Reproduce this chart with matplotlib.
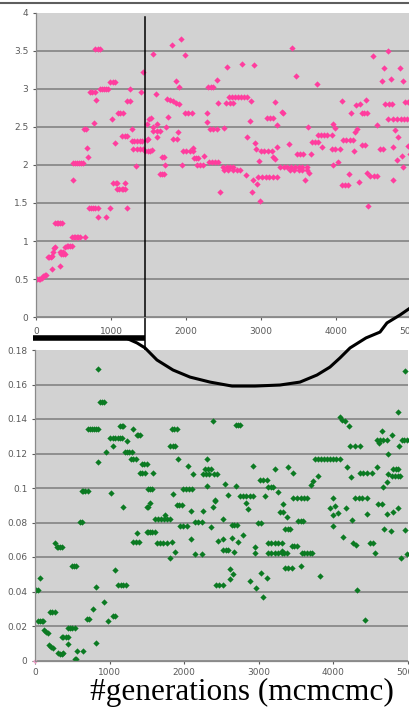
import matplotlib
matplotlib.use("Agg")
import matplotlib.pyplot as plt
from matplotlib.lines import Line2D
from matplotlib.transforms import blended_transform_factory

# ================================================================================================
# Data
# ================================================================================================
# top panel (pink)
top_gen = [
    0, 20, 40, 60, 80, 100, 120, 140, 160, 180, 200, 220, 213, 227, 240, 250,
    260, 280, 300, 320, 345, 320, 320, 340, 360, 340, 360, 385,
    390, 410, 430, 450, 475, 480, 500, 520, 540, 560, 585, 655, 493,
    495, 520, 545, 570, 600, 625, 640, 660, 680, 693,
    707, 730, 760, 790, 825, 720, 750, 785, 773, 800, 790, 820, 850,
    827, 933, 855, 880, 905, 930, 960, 987, 990, 1020, 1050, 1013,
    1027, 1060, 1080, 1053, 1080, 1110, 1140, 1165, 1187, 1095, 1125, 1160,
    1150, 1180, 1210, 1187, 1213, 1215, 1250, 1253, 1280,
    1280, 1310, 1345, 1380, 1413, 1295, 1340, 1385, 1427, 1333, 1400, 1427,
    1455, 1490, 1520, 1547, 1480, 1507, 1493,
    1564, 1817, 1933, 1987, 1867, 1902, 2293, 2330, 2360, 2409, 2551, 2743, 2907,
    1600, 1743, 1790, 1830, 1870, 1911,
    2573, 2610, 2650, 2690, 2730, 2770, 2813, 2533, 2580, 2627, 2427, 2867, 3187,
    1987, 2030, 2080, 2276, 1529, 1764, 1609, 1564, 1729, 2276,
    2320, 2365, 2409, 2511, 2853, 3076, 3120, 3164, 3218,
    1564, 1610, 1653, 1889, 1476, 1609, 1827, 1880, 2818, 2920, 2933,
    1960, 2000, 2050, 2093, 2098, 2996, 3040, 3090, 3142, 3218,
    1676, 1707, 2107, 2135, 2160, 2244, 2311, 2350, 2390, 2431,
    1720, 1942, 2142, 2185, 2231, 2978, 2493, 2540, 2585, 2627, 3164,
    3409, 4489, 4698, 4644, 4853, 3467, 3742, 4609, 4733, 4889,
    4084, 4267, 4320, 4400, 4653, 4700, 4742, 4920, 4960, 4987,
    3298, 3285, 4196, 4342, 4375, 4409,
    4698, 4764, 4810, 4860, 4900, 4942, 3622, 3964, 3987, 4284, 4253, 4542,
    3764, 3800, 3840, 3880, 3942, 4787, 4831,
    3373, 3676, 3720, 3764, 3809, 4089, 4135, 4180, 4231, 3942, 3990, 4053,
    4342, 4387, 4587, 4631, 4756, 4960,
    3476, 3520, 3564, 3662, 4240, 4876, 4980, 3187, 4031, 4809,
    3253, 3300, 3350, 3400, 3450, 3500, 3550, 3609, 3964, 4898,
    1650, 1676, 1700, 2453, 2500, 2560, 2620, 2680, 2720,
    2800, 2898, 2942, 2964, 3010, 3060, 3110, 3160, 3209, 2884, 2987,
    3387, 3440, 3500, 3550, 3609, 3587, 3644,
    4076, 4120, 4164, 4173, 4307, 4418, 4453, 4500, 4542, 4764, 4422,
]
top_rate = [
    0.50, 0.50, 0.50, 0.50, 0.51, 0.54, 0.55, 0.55, 0.79, 0.79, 0.79, 0.80, 0.63, 0.86, 0.91, 0.92,
    1.24, 1.24, 1.24, 1.24, 1.24, 0.67, 0.86, 0.86, 0.85, 0.83, 0.83, 0.83,
    0.92, 0.93, 0.93, 0.93, 0.93, 1.05, 1.05, 1.05, 1.05, 1.05, 1.05, 1.05, 1.80,
    2.03, 2.03, 2.03, 2.03, 2.03, 2.03, 2.47, 2.47, 2.22, 2.11,
    1.44, 1.44, 1.44, 1.44, 1.44, 2.96, 2.96, 2.96, 2.55, 2.86, 3.53, 3.53, 3.53,
    1.32, 1.32, 3.00, 3.00, 3.00, 3.00, 3.00, 1.43, 3.09, 3.09, 3.09, 2.60,
    1.76, 1.76, 1.76, 2.29, 1.68, 1.68, 1.68, 1.68, 1.68, 2.68, 2.68, 2.68,
    2.38, 2.38, 2.38, 1.76, 1.43, 2.84, 2.84, 3.00, 2.47,
    2.31, 2.31, 2.31, 2.31, 2.31, 2.21, 2.21, 2.21, 2.21, 1.99, 2.96, 3.22,
    2.19, 2.19, 2.19, 2.20, 2.54, 2.61, 2.34,
    3.46, 3.58, 3.66, 3.45, 3.11, 3.03, 3.02, 3.02, 3.02, 3.12, 3.29, 3.33, 3.31,
    2.93, 2.87, 2.86, 2.84, 2.82, 2.80,
    2.89, 2.89, 2.89, 2.89, 2.89, 2.89, 2.89, 2.81, 2.81, 2.81, 2.81, 2.84, 2.83,
    2.68, 2.68, 2.68, 2.69, 2.62, 2.63, 2.54, 2.50, 2.50, 2.56,
    2.48, 2.48, 2.48, 2.49, 2.58, 2.62, 2.62, 2.62, 2.53,
    2.45, 2.45, 2.45, 2.43, 2.33, 2.37, 2.34, 2.34, 2.37, 2.29, 2.21,
    2.18, 2.18, 2.18, 2.18, 2.23, 2.18, 2.18, 2.18, 2.18, 2.24,
    2.11, 2.11, 2.09, 2.09, 2.09, 2.12, 2.04, 2.04, 2.04, 2.04,
    2.00, 2.00, 2.00, 2.00, 2.00, 2.05, 1.98, 1.98, 1.98, 1.98, 2.11,
    3.54, 3.44, 3.50, 3.28, 3.28, 3.17, 3.06, 3.10, 3.13, 3.11,
    2.84, 2.79, 2.80, 2.86, 2.80, 2.80, 2.80, 2.83, 2.83, 2.83,
    2.68, 2.70, 2.68, 2.68, 2.68, 2.68,
    2.60, 2.61, 2.61, 2.61, 2.61, 2.61, 2.50, 2.54, 2.49, 2.48, 2.44, 2.52,
    2.39, 2.39, 2.39, 2.39, 2.39, 2.46, 2.37,
    2.28, 2.30, 2.30, 2.30, 2.24, 2.33, 2.33, 2.33, 2.33, 2.21, 2.21, 2.21,
    2.26, 2.26, 2.21, 2.21, 2.24, 2.25,
    2.15, 2.15, 2.15, 2.14, 2.18, 2.12, 2.15, 2.08, 2.04, 2.07,
    1.98, 1.97, 1.97, 1.97, 1.97, 1.97, 1.97, 1.97, 2.00, 1.98,
    1.88, 1.88, 1.88, 1.65, 1.93, 1.93, 1.93, 1.93, 1.93,
    1.87, 1.80, 1.75, 1.84, 1.84, 1.84, 1.84, 1.84, 1.84, 1.64, 1.53,
    1.93, 1.93, 1.93, 1.93, 1.93, 1.80, 1.89,
    1.74, 1.74, 1.74, 1.88, 1.78, 1.90, 1.85, 1.85, 1.85, 1.80, 1.46,
]

# bottom panel (green)
bot_gen = [
    849, 870, 895, 920, 714, 740, 765, 790, 820, 849, 1140, 1162, 1185,
    1310, 1363, 1385, 1408, 1005, 1040, 1075, 1110, 1140, 1162, 1238, 1041,
    952, 1206, 1235, 1265, 1296, 840, 1283, 1320, 1354, 1430, 1465, 1497,
    1408, 1440, 1475, 626, 650, 675, 715, 1019, 1519,
    1184, 603, 625, 1363, 1318, 1360, 1399, 1497, 1520, 1541, 1519,
    268, 290, 315, 335, 357, 492, 520, 550, 1072, 67, 1117, 1150, 1185, 1220,
    15, 35, 818, 925, 782, 201, 230, 268, 44, 70, 90, 112, 700, 730, 983,
    1041, 1072, 125, 150, 179, 190, 210, 237, 446, 470, 500, 536,
    357, 380, 410, 446, 446, 818, 313, 335, 360, 380, 567, 647, 536, 550,
    2382, 2700, 2725, 2750, 1832, 1865, 1899, 1810, 1845, 1877, 1921, 2301,
    2055, 2279, 2320, 2359, 2122, 2256, 2290, 2330, 2400, 2435, 1586,
    2926, 3217, 3016, 3060, 3105, 3127, 3160, 3194, 2547, 2690, 2301, 1540, 1564,
    1988, 2025, 2060, 2100, 1854, 2591, 2748, 2790, 2835, 2880, 2927, 3083, 3262, 2413,
    1506, 1541, 1899, 1930, 1966, 2091, 2256, 2382, 2413, 2828, 2859,
    1609, 1650, 1690, 1730, 1770, 1810, 1743, 1944, 1990, 2033, 2145, 2190, 2234,
    2359, 2524, 2636, 2670, 2703, 2792, 2993, 3025, 1565, 1609,
    1631, 1675, 1720, 1765, 1832, 2091, 2449, 2516, 2636, 2725, 2525, 2558, 2591,
    1872, 2145, 2243, 2672, 2949, 2949, 3127, 3170, 3215, 3262, 3127, 3170, 3215, 3262,
    1810, 2614, 2650, 2614, 2422, 2470, 2516, 2882, 2963, 3030, 3105, 3060,
    4960, 4870, 4088, 4120, 4155, 4209, 4648, 4782, 4580, 4620, 4660, 4714, 4610,
    4915, 4950, 4982, 4222, 4290, 4357, 4879, 4736,
    3753, 3790, 3830, 3870, 3910, 3950, 3990, 4040, 4088,
    3396, 3463, 3798, 3731, 3700, 4187, 4232, 4357, 4400, 4450, 4513, 4580,
    4736, 4803, 4840, 4870, 4782, 4820, 4860, 4893, 4723, 4669,
    3463, 3510, 3560, 3600, 3642, 4000, 4290, 4340, 4390, 4446,
    3329, 3284, 3329, 3374, 3530, 3565, 3597, 3954, 4021, 3999, 4066, 4169, 3999,
    4245, 4455, 4601, 4646, 4723, 4803, 4870, 4678, 4768, 4960, 3351, 3385, 3418,
    3307, 3307, 3340, 3374, 3307, 3441, 3475, 3507, 3575, 3610, 3645, 3680, 3709,
    4133, 4259, 4303, 4491, 4535, 4557, 4982, 4902,
    3351, 3395, 3441, 3562, 3820, 4312, 4423,
]
bot_rate = [
    0.1688, 0.150, 0.150, 0.150, 0.134, 0.134, 0.134, 0.134, 0.134, 0.134, 0.136, 0.136, 0.136,
    0.134, 0.131, 0.131, 0.131, 0.129, 0.129, 0.129, 0.129, 0.129, 0.129, 0.127, 0.1245,
    0.121, 0.121, 0.121, 0.121, 0.121, 0.115, 0.117, 0.117, 0.117, 0.114, 0.114, 0.114,
    0.1085, 0.1085, 0.1085, 0.098, 0.098, 0.098, 0.098, 0.097, 0.0994,
    0.0888, 0.0805, 0.0805, 0.0737, 0.0685, 0.0685, 0.0685, 0.0743, 0.0743, 0.0743, 0.089,
    0.0683, 0.066, 0.066, 0.066, 0.066, 0.055, 0.055, 0.055, 0.0525, 0.0476, 0.0438, 0.0435, 0.0435, 0.0435,
    0.0409, 0.0409, 0.0424, 0.0337, 0.0298, 0.0283, 0.0283, 0.0283, 0.0231, 0.0231, 0.0231, 0.0231,
    0.024, 0.024, 0.0231,
    0.0258, 0.0258, 0.0175, 0.0165, 0.016, 0.009, 0.008, 0.0075, 0.019, 0.019, 0.019, 0.019,
    0.0138, 0.0138, 0.0138, 0.0138, 0.0096, 0.0103, 0.0042, 0.0040, 0.0040, 0.0042, 0.0055, 0.0055,
    0.0007, 0.0007,
    0.139, 0.1365, 0.1365, 0.1365, 0.134, 0.134, 0.134, 0.1245, 0.1245, 0.1245, 0.117, 0.1168,
    0.113, 0.111, 0.111, 0.111, 0.108, 0.108, 0.108, 0.108, 0.108, 0.108, 0.1085,
    0.113, 0.111, 0.1045, 0.1045, 0.1045, 0.1008, 0.1008, 0.1008, 0.1023, 0.1012, 0.1012, 0.0994, 0.0994,
    0.0993, 0.0993, 0.0993, 0.0993, 0.0964, 0.096, 0.0955, 0.0955, 0.0955, 0.0955, 0.0955, 0.0955,
    0.0975, 0.093,
    0.0888, 0.0915, 0.090, 0.090, 0.090, 0.0868, 0.0868, 0.0892, 0.0925, 0.0915, 0.0877,
    0.082, 0.082, 0.082, 0.082, 0.082, 0.082, 0.0843, 0.078, 0.078, 0.078, 0.0805, 0.0805, 0.0805,
    0.0776, 0.082, 0.0785, 0.0785, 0.0785, 0.0728, 0.080, 0.080, 0.0743, 0.0743,
    0.0683, 0.0683, 0.0683, 0.0683, 0.0689, 0.0704, 0.0694, 0.0704, 0.0708, 0.0689, 0.064, 0.064, 0.064,
    0.0627, 0.0617, 0.0617, 0.0627, 0.0656, 0.0621, 0.0683, 0.0683, 0.0683, 0.0683,
    0.0624, 0.0624, 0.0624, 0.0624,
    0.0592, 0.0529, 0.050, 0.047, 0.0438, 0.0438, 0.0438, 0.0463, 0.0422, 0.0509, 0.048, 0.037,
    0.168, 0.1443, 0.141, 0.1395, 0.139, 0.136, 0.133, 0.131, 0.128, 0.128, 0.128, 0.128, 0.126,
    0.128, 0.128, 0.128, 0.1245, 0.1245, 0.1245, 0.1243, 0.1195,
    0.1168, 0.1168, 0.1168, 0.1168, 0.1168, 0.1168, 0.1168, 0.1168, 0.1168,
    0.1123, 0.1085, 0.107, 0.104, 0.102, 0.112, 0.1062, 0.1085, 0.1085, 0.1085, 0.1085, 0.1123,
    0.108, 0.111, 0.111, 0.111, 0.107, 0.107, 0.107, 0.107, 0.1037, 0.1008,
    0.094, 0.094, 0.094, 0.094, 0.094, 0.0944, 0.0944, 0.0944, 0.0944, 0.0944,
    0.0907, 0.0863, 0.0863, 0.0834, 0.081, 0.081, 0.081, 0.0882, 0.0896, 0.0844, 0.0857, 0.0882, 0.078,
    0.0814, 0.0849, 0.0907, 0.0907, 0.0849, 0.0863, 0.0882, 0.076, 0.075, 0.0757, 0.076, 0.076, 0.076,
    0.0683, 0.0625, 0.0625, 0.0625, 0.0637, 0.0666, 0.0666, 0.0666, 0.0625, 0.0625, 0.0625, 0.0625, 0.0625,
    0.0714, 0.0683, 0.067, 0.0683, 0.0683, 0.0625, 0.0617, 0.0592,
    0.0534, 0.0534, 0.0534, 0.0548, 0.0492, 0.0409, 0.0235,
]

top_yticks = [0, 0.5, 1, 1.5, 2, 2.5, 3, 3.5, 4]
bot_yticks = [0, 0.02, 0.04, 0.06, 0.08, 0.1, 0.12, 0.14, 0.16, 0.18]
xticks = [0, 1000, 2000, 3000, 4000, 5000]

# hand drawn marks on the screenshot
split_gen = 1453
sketch_gen = [1247, 1367, 1475, 1635, 1850, 2078, 2346, 2641, 2949, 3284, 3552,
              3780, 3954, 4088, 4223, 4437, 4625, 4718, 4893, 5027]
sketch_val = [0.1864, 0.1841, 0.1812, 0.1742, 0.1684, 0.1643, 0.1614, 0.1591, 0.1591,
              0.1597, 0.1614, 0.1655, 0.1701, 0.1754, 0.1812, 0.1870, 0.1904, 0.1957,
              0.2003, 0.2043]

# ================================================================================================
# Figure
# ================================================================================================
W, H = 410, 707
fig = plt.figure(figsize=(W / 100, H / 100), dpi=100)

bg = "#d2d2d2"
grid_c = "#7d7d7d"
tick_c = "#5a5a5a"

ax1 = fig.add_axes([36 / W, (H - 317) / H, 375 / W, 304 / H])
ax2 = fig.add_axes([35 / W, (H - 660.5) / H, 373 / W, 310.5 / H])

for ax, yt in ((ax1, top_yticks), (ax2, bot_yticks)):
    ax.set_facecolor(bg)
    ax.set_xlim(0, 5000)
    ax.set_ylim(yt[0], yt[-1])
    ax.set_xticks(xticks)
    ax.set_xticklabels([f"{v:g}" for v in xticks])
    ax.set_yticks(yt)
    ax.set_yticklabels([f"{v:g}" for v in yt])
    ax.tick_params(labelsize=6.5, colors=tick_c, length=2.5, width=0.8, pad=3)
    ax.grid(axis="y", color=grid_c, linewidth=1.1)
    ax.yaxis.get_gridlines()[-1].set_visible(False)
    ax.set_axisbelow(True)
    for s in ("top", "right"):
        ax.spines[s].set_visible(False)
    for s in ("left", "bottom"):
        ax.spines[s].set_color("#8a8a8a")
        ax.spines[s].set_linewidth(0.9)

ax1.tick_params(axis="x", pad=5)

ax1.plot(top_gen, top_rate, linestyle="none", marker="D", markersize=3.2,
         color="#ff3d9e", markeredgewidth=0)
ax2.plot(bot_gen, bot_rate, linestyle="none", marker="D", markersize=3.2,
         color="#0b7a22", markeredgewidth=0)
ax2.plot([0], [0], linestyle="none", marker="D", markersize=2.5,
         color="#ff9fd0", markeredgewidth=0, clip_on=False)

# vertical split line through both panels, and the thick bar between them
blend = blended_transform_factory(ax1.transData, fig.transFigure)
ax1.plot([split_gen, split_gen], [(H - 17) / H, (H - 657) / H], color="black",
         linewidth=1.1, transform=blend, clip_on=False)
ax1.plot([-40, split_gen], [(H - 338) / H, (H - 338) / H], color="black",
         linewidth=4, solid_capstyle="butt", transform=blend, clip_on=False)

# hand drawn curve
ax2.plot(sketch_gen, sketch_val, color="black", linewidth=2.2, clip_on=False,
         solid_capstyle="round", solid_joinstyle="round")

# frame line at the top of the screenshot
fig.add_artist(Line2D([0, 1], [(H - 2.5) / H, (H - 2.5) / H], color="#5e5e5e",
                      linewidth=1.5, transform=fig.transFigure))

fig.text(90 / W, (H - 700) / H, "#generations (mcmcmc)", family="Liberation Serif",
         fontsize=22.5, ha="left", va="baseline", color="black")

fig.savefig("out.png", dpi=100)
